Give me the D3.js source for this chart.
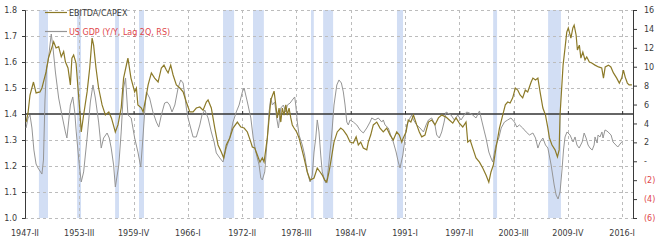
<!DOCTYPE html>
<html><head><meta charset="utf-8">
<script src="https://cdn.jsdelivr.net/npm/d3@7"></script>
<style>
html,body{margin:0;padding:0;background:#fff;}
svg{display:block;font-family:"DejaVu Sans",Verdana,sans-serif;}
</style></head>
<body>
<svg id="chart" width="660" height="243"></svg>
<script>
// Time is measured in quarters since 1947-II
const xTickQtr = [0,25,50,75,100,125,150,175,200,225,250,275];
const xTickLabels = ["1947-II","1953-III","1959-IV","1966-I","1972-II","1978-III","1984-IV","1991-I","1997-II","2003-III","2009-IV","2016-I"];
const leftTicks = [1.0,1.1,1.2,1.3,1.4,1.5,1.6,1.7,1.8];
const rightTicks = [16,14,12,10,8,6,4,2,0,-2,-4,-6];
const rightTickLabels = ["16","14","12","10","8","6","4","2","-","(2)","(4)","(6)"];
const seriesNames = ["EBITDA/CAPEX","US GDP (Y/Y, Lag 2Q, RS)"];

// Recession shading (start, end) in quarters since 1947-II
const recessionStart = [6.4,24,41.5,52.5,91.2,105,131.7,137.3,171.3,215.6,240.9];
const recessionEnd   = [10.6,25.8,43.3,54.8,96.3,110,133,141.9,174.1,217.4,246.8];

// EBITDA/CAPEX (left axis)
const ebitdaQtr = [0.5,1.4,2.3,3.9,5.1,6.9,7.8,9.7,10.8,13.2,14.3,15.5,16.7,17.8,18.6,19.8,20.9,21.6,22.4,23.5,24.4,25.5,25.9,27.0,28.6,29.8,30.9,31.6,32.7,33.9,35.5,37.0,38.6,39.8,41.6,42.8,44.3,45.4,47.0,47.4,48.8,50.5,51.3,52.0,53.6,54.4,55.9,56.7,58.2,59.7,61.3,62.8,64.0,65.1,65.9,67.1,68.2,69.7,71.3,72.8,74.3,75.9,77.4,78.9,80.5,82.0,83.5,84.3,85.8,87.4,88.9,90.4,91.5,92.7,94.3,95.8,97.8,99.4,100.9,102.4,104.0,104.7,105.8,107.0,108.2,109.3,110.1,111.6,113.2,114.7,115.5,116.2,117.0,117.8,118.5,119.3,120.1,120.8,121.6,122.4,123.1,123.9,125.1,126.2,127.0,128.5,130.0,131.3,133.1,134.6,135.9,136.9,138.0,139.0,140.0,140.8,142.3,143.8,145.4,146.6,148.2,149.7,151.2,152.5,153.5,154.6,155.8,157.4,158.1,159.2,160.4,162.0,163.5,165.0,166.6,168.1,169.6,171.2,172.4,173.5,174.2,175.5,176.5,177.7,178.9,180.4,181.6,182.7,184.2,185.8,187.3,188.8,190.4,191.9,193.9,195.4,197.0,198.5,200.0,201.6,203.1,203.9,205.0,206.2,207.7,209.3,210.8,212.3,213.6,214.6,215.7,216.9,218.5,220.0,221.2,222.3,223.4,224.6,225.8,226.9,228.0,229.2,230.4,231.5,233.1,233.9,235.1,236.2,237.2,238.5,239.7,240.8,241.5,242.7,244.1,245.2,246.0,246.4,247.8,248.7,249.5,250.2,251.4,252.3,252.9,253.8,254.4,255.3,256.0,256.9,257.9,258.7,259.9,261.0,262.5,264.1,265.6,266.4,267.2,268.7,269.8,271.0,272.5,273.7,274.8,275.6,276.4,277.4,278.2,279.5];
const ebitdaValues = [1.369,1.404,1.473,1.523,1.481,1.485,1.500,1.562,1.615,1.678,1.654,1.659,1.620,1.640,1.601,1.577,1.512,1.615,1.627,1.596,1.500,1.385,1.331,1.396,1.485,1.577,1.692,1.665,1.577,1.500,1.435,1.396,1.408,1.385,1.331,1.358,1.423,1.538,1.600,1.615,1.538,1.485,1.500,1.435,1.423,1.408,1.473,1.512,1.558,1.538,1.523,1.577,1.588,1.569,1.558,1.588,1.550,1.512,1.500,1.485,1.446,1.408,1.408,1.423,1.427,1.415,1.446,1.454,1.423,1.346,1.281,1.254,1.231,1.281,1.308,1.346,1.369,1.350,1.346,1.331,1.292,1.273,1.269,1.242,1.215,1.231,1.215,1.308,1.454,1.488,1.435,1.385,1.423,1.369,1.423,1.396,1.435,1.396,1.423,1.385,1.358,1.346,1.331,1.308,1.281,1.231,1.177,1.146,1.154,1.192,1.177,1.165,1.146,1.138,1.177,1.215,1.292,1.331,1.346,1.338,1.319,1.292,1.288,1.312,1.281,1.292,1.269,1.262,1.292,1.319,1.358,1.369,1.346,1.331,1.346,1.319,1.300,1.331,1.319,1.292,1.308,1.331,1.377,1.369,1.396,1.358,1.331,1.312,1.319,1.369,1.377,1.358,1.385,1.396,1.388,1.377,1.365,1.385,1.365,1.350,1.369,1.292,1.300,1.269,1.231,1.215,1.192,1.165,1.138,1.177,1.204,1.269,1.346,1.396,1.435,1.446,1.442,1.462,1.500,1.492,1.473,1.462,1.492,1.485,1.523,1.538,1.531,1.538,1.485,1.423,1.396,1.346,1.308,1.281,1.262,1.235,1.262,1.396,1.588,1.654,1.715,1.731,1.692,1.731,1.742,1.704,1.646,1.665,1.615,1.638,1.608,1.619,1.600,1.596,1.588,1.581,1.577,1.538,1.581,1.588,1.581,1.558,1.538,1.519,1.538,1.569,1.542,1.519,1.512,1.512];

// US GDP Y/Y %, lagged 2Q (right axis)
const gdpQtr = [0.5,1.4,2.3,3.2,4.1,5.1,6.0,6.9,7.8,8.5,9.2,9.9,10.6,11.5,12.1,12.9,14.0,15.5,17.0,18.6,19.3,20.9,22.0,22.9,23.6,25.0,25.9,27.0,28.6,30.1,31.3,32.4,33.9,35.1,36.2,37.8,38.8,39.7,40.8,41.6,43.2,44.3,45.4,46.3,47.4,48.9,50.5,52.0,53.3,54.3,55.1,55.9,57.4,58.9,60.5,61.6,62.8,64.3,65.5,66.6,67.7,69.0,70.5,71.7,72.8,73.6,74.3,75.1,76.3,77.4,78.9,80.5,81.5,82.8,84.3,85.8,87.1,88.1,89.7,91.2,92.7,94.3,95.8,97.3,98.6,100.1,100.9,102.4,104.0,105.1,106.3,107.8,108.6,109.3,110.4,111.6,112.4,113.2,113.9,115.0,115.9,116.7,117.8,119.0,120.1,120.8,122.1,123.1,124.2,124.7,125.4,126.2,127.7,128.8,130.0,131.3,132.3,133.1,133.9,134.6,135.4,136.2,136.9,137.7,138.5,139.2,140.0,140.8,141.5,142.3,143.6,144.6,145.7,146.6,147.4,148.2,148.9,149.7,151.2,152.8,154.3,155.8,157.4,158.9,159.7,161.2,162.7,164.3,165.0,165.8,167.3,168.4,169.6,170.9,171.9,172.7,174.0,175.0,175.8,177.3,178.1,178.9,180.4,181.9,183.5,184.7,185.8,187.3,188.8,189.6,190.8,191.9,193.0,193.9,196.2,197.7,199.3,200.8,202.3,203.4,204.6,206.2,207.7,209.3,210.5,211.6,212.3,213.6,214.6,215.4,216.2,216.9,218.2,219.3,220.8,222.3,223.8,225.4,226.5,227.7,229.2,230.8,232.3,233.9,235.1,236.2,237.2,238.5,239.7,240.8,242.3,243.7,244.6,245.5,246.4,247.3,248.0,248.7,249.6,251.0,252.4,253.3,254.2,255.2,256.6,257.5,258.4,259.3,260.2,261.2,262.1,262.5,263.5,263.9,264.8,265.7,266.2,267.1,268.0,268.5,269.9,270.8,272.1,273.0,274.4,275.3];
const gdpValues = [3.52,4.58,4.89,3.52,1.19,-0.29,-0.71,-1.03,-1.35,0.13,6.48,9.87,10.50,12.30,13.46,11.98,9.44,6.69,4.89,3.10,2.46,5.95,6.80,5.21,3.10,-0.39,-2.19,-1.13,2.46,6.27,8.07,6.69,4.15,1.40,2.46,2.99,2.46,1.40,-0.39,-2.72,-0.39,3.10,7.75,8.81,4.89,4.58,2.46,0.98,-0.61,2.46,5.21,7.33,6.69,5.21,4.15,3.62,4.89,6.16,6.27,5.95,5.21,5.95,7.75,8.60,8.28,7.01,5.63,4.58,3.52,2.57,2.57,3.84,4.89,5.42,4.58,3.10,2.04,0.88,0.35,-0.08,1.40,2.46,4.15,5.21,5.95,7.33,7.75,6.27,4.58,2.46,0.98,-0.39,-1.77,-1.98,-1.13,2.46,5.21,6.69,5.95,6.27,4.58,3.52,5.63,5.95,5.21,5.95,6.16,6.48,6.80,5.95,4.15,2.78,1.72,0.66,-1.13,-2.19,-1.45,0.98,2.46,4.37,3.10,0.66,-1.13,-1.77,-2.30,-1.77,-0.08,1.72,3.52,5.95,8.07,8.60,8.28,7.33,5.95,4.15,3.84,4.37,4.15,3.84,3.31,2.99,3.52,4.15,4.58,4.37,4.58,4.15,4.37,3.84,3.52,2.78,2.04,0.98,-0.08,-0.71,0.66,2.46,3.84,4.58,4.89,4.37,3.84,3.52,3.10,3.84,4.37,4.58,3.84,2.78,2.46,3.10,4.15,5.21,4.89,4.37,4.89,4.37,4.89,5.21,5.11,4.89,4.58,5.32,4.15,3.10,2.46,0.98,0.35,-0.08,0.98,1.72,2.46,3.52,4.15,4.37,4.58,4.15,3.62,3.84,3.52,3.10,2.78,2.99,2.46,1.40,2.04,2.46,1.72,1.40,-0.39,-2.51,-3.57,-3.99,-3.25,-0.92,1.19,2.57,3.10,2.78,2.04,2.57,1.72,1.40,2.04,2.99,2.46,1.72,1.40,1.19,1.72,2.57,1.93,2.78,2.57,3.10,2.46,3.31,3.20,3.10,2.78,2.04,1.72,1.51,1.93,2.15];

const svg = d3.select("#chart");
const x = d3.scaleLinear().domain([0, 280]).range([25, 633]);
const yL = d3.scaleLinear().domain([1.0, 1.8]).range([218, 10]);
const yR = d3.scaleLinear().domain([-6, 16]).range([218, 10]);

const gold = "#8c7a28", gray = "#959595", red = "#e0454a", ink = "#3a3a3a";

// recession bands
svg.append("g").selectAll("rect").data(recessionStart).join("rect")
  .attr("x", (d) => x(d))
  .attr("width", (d,i) => x(recessionEnd[i]) - x(d))
  .attr("y", yL(1.8)).attr("height", yL(1.0) - yL(1.8))
  .attr("fill", "#d2def4");

// grid
const grid = svg.append("g").attr("stroke", "#bcbcbc").attr("stroke-dasharray", "3,3").attr("stroke-width", 1);
grid.selectAll("line.h").data(leftTicks.filter(d => d !== 1.4)).join("line")
  .attr("x1", x(0)).attr("x2", x(280))
  .attr("y1", d => Math.round(yL(d)) + 0.5).attr("y2", d => Math.round(yL(d)) + 0.5);
grid.selectAll("line.v").data(xTickQtr.slice(1)).join("line")
  .attr("x1", d => Math.round(x(d)) + 0.5).attr("x2", d => Math.round(x(d)) + 0.5)
  .attr("y1", yL(1.8)).attr("y2", yL(1.0));

// left axis
const gLeft = svg.append("g").attr("transform", `translate(${x(0)},0)`)
  .call(d3.axisLeft(yL).tickValues(leftTicks).tickSize(3).tickPadding(5).tickFormat(d3.format(".1f")));
gLeft.select(".domain").attr("stroke", ink);
gLeft.selectAll(".tick line").attr("stroke", ink);
gLeft.selectAll("text").attr("font-size", 8).attr("fill", ink).attr("font-family", "DejaVu Sans");

// right axis
const gRight = svg.append("g").attr("transform", `translate(${x(280)},0)`)
  .call(d3.axisRight(yR).tickValues(rightTicks).tickSize(4).tickPadding(7)
        .tickFormat((d,i) => rightTickLabels[i]));
gRight.select(".domain").attr("stroke", ink);
gRight.selectAll(".tick line").attr("stroke", ink);
gRight.selectAll("text").attr("font-size", 8).attr("font-family", "DejaVu Sans")
  .attr("fill", d => d < 0 ? red : ink);

// zero line at 1.4 with x ticks
svg.append("line").attr("x1", x(0)).attr("x2", x(280))
  .attr("y1", yL(1.4)).attr("y2", yL(1.4)).attr("stroke", "#333").attr("stroke-width", 1.3);
const gX = svg.append("g").attr("transform", `translate(0,${yL(1.4)})`)
  .call(d3.axisTop(x).tickValues(xTickQtr).tickSize(3).tickFormat(""));
gX.select(".domain").remove();
gX.selectAll(".tick line").attr("stroke", "#333");

// x labels at bottom
svg.append("g").selectAll("text").data(xTickQtr).join("text")
  .attr("x", d => x(d)).attr("y", 236)
  .attr("text-anchor", "middle").attr("font-size", 8).attr("fill", ink)
  .text((d,i) => xTickLabels[i]);

// lines
const gdpLine = d3.line().x((d,i) => x(gdpQtr[i])).y(d => yR(d));
svg.append("path").datum(gdpValues).attr("d", gdpLine)
  .attr("fill", "none").attr("stroke", gray).attr("stroke-width", 1);
const ebLine = d3.line().x((d,i) => x(ebitdaQtr[i])).y(d => yL(d));
svg.append("path").datum(ebitdaValues).attr("d", ebLine)
  .attr("fill", "none").attr("stroke", gold).attr("stroke-width", 1.2);

// legend
const leg = svg.append("g");
[[gold, ink, 12.5], [gray, red, 31.5]].forEach((s, i) => {
  leg.append("line").attr("x1", 45).attr("x2", 67).attr("y1", s[2]).attr("y2", s[2])
    .attr("stroke", s[0]).attr("stroke-width", 1.2);
  leg.append("text").attr("x", 69).attr("y", s[2] + 3).attr("font-size", 8)
    .attr("fill", s[1]).text(seriesNames[i]);
});
</script>
</body></html>
